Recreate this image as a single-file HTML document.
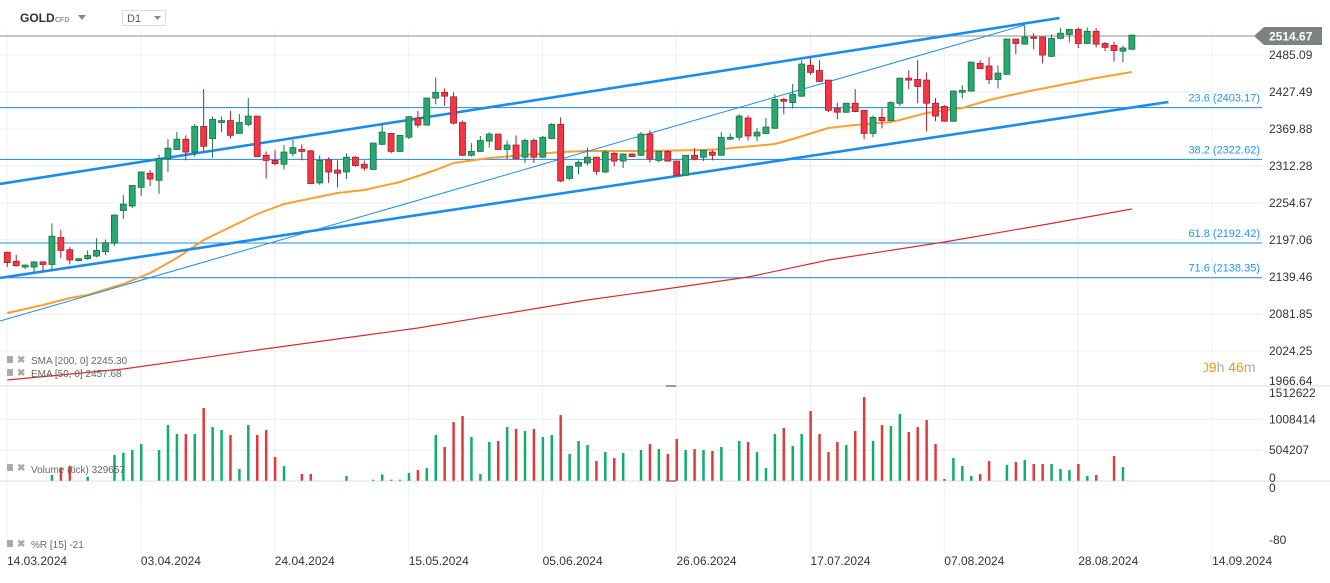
<!DOCTYPE html>
<html><head><meta charset="utf-8"><style>
html,body{margin:0;padding:0;background:#fff;}
body{width:1330px;height:578px;overflow:hidden;font-family:"Liberation Sans",sans-serif;}
svg text{font-family:"Liberation Sans",sans-serif;}
</style></head><body>
<svg id="chart" width="1330" height="578" viewBox="0 0 1330 578" xmlns="http://www.w3.org/2000/svg">
<g id="grid"></g>
<g id="volume"></g>
<g id="fib"></g>
<g id="ind"></g>
<g id="candles"></g>
<g id="axes"></g>
<g>
  <text x="20" y="22" font-size="12" font-weight="bold" fill="#333">GOLD</text>
  <text x="55" y="22" font-size="7" fill="#666">CFD</text>
  <path d="M78,15 L86,15 L82,20 Z" fill="#888"/>
  <rect x="122.5" y="10.5" width="43" height="15" fill="#fff" stroke="#ddd"/>
  <text x="127" y="22" font-size="11" fill="#555">D1</text>
  <path d="M154,16 L161,16 L157.5,20 Z" fill="#888"/>
</g>
<g font-size="10" fill="#666">
  <rect x="7" y="356" width="6" height="7" fill="#aaa"/>
  <text x="17" y="363" fill="#aaa" font-weight="bold">✖</text>
  <text x="31" y="364">SMA [200,  0] 2245.30</text>
  <rect x="7" y="369" width="6" height="7" fill="#aaa"/>
  <text x="17" y="376" fill="#aaa" font-weight="bold">✖</text>
  <text x="31" y="377">EMA [50,  0] 2457.68</text>
  <rect x="7" y="464" width="6" height="7" fill="#aaa"/>
  <text x="17" y="471" fill="#aaa" font-weight="bold">✖</text>
  <text x="31" y="473">Volume (tick)  329657</text>
  <rect x="7" y="540" width="6" height="7" fill="#aaa"/>
  <text x="17" y="547" fill="#aaa" font-weight="bold">✖</text>
  <text x="31" y="548">%R [15]  -21</text>
</g>
<g font-size="14">
  <text x="1201" y="372" fill="#f7931a">09<tspan fill="#aaa">h</tspan> 46<tspan fill="#aaa">m</tspan></text>
  <rect x="1195" y="358" width="9" height="18" fill="#fff"/>
</g>
</svg>
<script>
const opens=[2178,2164,2155,2155,2163,2159,2201,2182,2165,2168,2172,2179,2192,2243,2250,2279,2301,2290,2324,2338,2354,2334,2374,2355,2380,2383,2363,2377,2390,2329,2321,2315,2332,2338,2336,2286,2322,2306,2303,2326,2315,2307,2346,2363,2335,2357,2387,2376,2418,2427,2420,2380,2329,2335,2351,2362,2338,2345,2326,2352,2326,2355,2377,2293,2312,2317,2326,2303,2332,2320,2331,2329,2362,2321,2335,2320,2298,2329,2326,2334,2329,2354,2357,2387,2359,2363,2371,2416,2411,2421,2469,2461,2446,2402,2396,2410,2399,2363,2388,2383,2410,2449,2447,2446,2410,2405,2382,2427,2429,2472,2468,2447,2455,2510,2502,2513,2513,2483,2511,2517,2525,2503,2522,2503,2500,2491,2494];
const highs=[2179,2174,2159,2164,2164,2223,2213,2186,2169,2181,2200,2198,2237,2267,2282,2303,2306,2330,2354,2365,2360,2378,2432,2389,2389,2398,2393,2418,2390,2335,2337,2345,2353,2346,2337,2329,2326,2321,2332,2328,2321,2348,2379,2364,2361,2390,2398,2419,2450,2433,2427,2383,2348,2359,2365,2362,2352,2360,2355,2355,2359,2379,2388,2313,2321,2341,2327,2337,2334,2332,2332,2365,2368,2336,2337,2320,2329,2340,2338,2337,2365,2363,2393,2391,2371,2387,2424,2418,2440,2477,2480,2477,2446,2411,2411,2432,2399,2391,2402,2413,2450,2461,2477,2458,2418,2407,2430,2438,2475,2477,2482,2469,2510,2510,2531,2519,2513,2517,2527,2525,2528,2528,2527,2505,2506,2500,2517];
const lows=[2155,2156,2152,2148,2149,2150,2169,2159,2164,2166,2170,2174,2188,2230,2247,2266,2281,2269,2303,2337,2321,2327,2335,2325,2365,2355,2363,2374,2326,2293,2313,2307,2327,2321,2284,2283,2286,2279,2292,2311,2305,2306,2345,2332,2334,2354,2372,2375,2408,2406,2377,2328,2327,2334,2341,2337,2323,2323,2317,2317,2325,2354,2287,2290,2299,2313,2298,2301,2312,2309,2326,2328,2318,2318,2319,2297,2297,2321,2320,2321,2328,2353,2352,2352,2351,2362,2370,2393,2402,2420,2454,2443,2396,2385,2395,2396,2354,2357,2371,2382,2405,2432,2410,2366,2382,2381,2381,2418,2428,2463,2440,2433,2454,2486,2501,2494,2472,2482,2510,2505,2496,2502,2497,2491,2475,2474,2493];
const closes=[2162,2157,2158,2163,2159,2203,2181,2166,2168,2173,2181,2193,2236,2253,2282,2303,2292,2324,2340,2354,2334,2374,2343,2385,2383,2360,2380,2390,2327,2321,2316,2334,2341,2335,2285,2321,2303,2301,2326,2313,2309,2348,2365,2335,2360,2389,2376,2418,2427,2421,2379,2329,2335,2352,2362,2338,2345,2324,2352,2326,2357,2377,2289,2312,2318,2326,2304,2334,2320,2331,2327,2362,2323,2335,2320,2298,2329,2323,2337,2329,2357,2357,2390,2359,2365,2373,2416,2413,2424,2471,2458,2444,2399,2396,2410,2397,2363,2388,2383,2411,2449,2446,2436,2410,2390,2382,2429,2430,2474,2464,2447,2457,2510,2503,2513,2511,2485,2511,2519,2525,2503,2522,2502,2497,2492,2496,2516];
const volumes=[0,0,0,0,0,93160,219200,241120,0,65760,0,0,421960,460320,504160,602800,0,504160,915160,767200,767200,767200,1194640,882280,832960,750760,191800,915160,750760,832960,389080,241120,0,109600,109600,0,0,0,76720,0,0,16440,104120,16440,16440,126040,175360,208240,750760,553480,964480,1063120,717880,109600,635680,652120,882280,849400,816520,849400,717880,750760,1079560,438400,652120,586360,323320,471280,372640,454840,0,504160,602800,520600,438400,685000,504160,520600,504160,487720,553480,0,652120,635680,471280,208240,767200,865840,569920,767200,1145320,767200,471280,635680,586360,816520,1375480,652120,915160,898720,1096000,800080,882280,997360,602800,27400,372640,241120,76720,109600,323320,0,257560,306880,339760,274000,274000,274000,191800,175360,274000,76720,93160,0,405520,224680,0];
const emaIdx=[0,4,7,9,13,16,19,22,25,28,31,37,40,44,48,50,54,58,62,65,71,78,80,86,88,92,95,99,100,103,107,110,114,118,122,126];
const emaVals=[2083.4,2095.9,2106.8,2111.5,2128.6,2145.7,2169.1,2197.1,2217.3,2237.6,2253.1,2270.3,2274.9,2287.4,2306.1,2317,2324.7,2329.4,2334.1,2335.6,2335.6,2337.2,2338.8,2346.5,2354.3,2371.4,2376.1,2380.8,2383.9,2394.8,2402.6,2415,2427.5,2438.4,2449.3,2458.6];
const smaIdx=[0,13,28,46,65,73,83,92,105,116,126];
const smaVals=[1979.2,1996.3,2025.9,2060.1,2103.7,2119.3,2139.5,2166,2194,2220.4,2245.3];
const priceTicks=[2485.09,2427.49,2369.88,2312.28,2254.67,2197.06,2139.46,2081.85,2024.25,1966.64];
const fibLevels=[23.6,38.2,61.8,71.6];
const fibPrices=[2403.17,2322.62,2192.42,2138.35];
const volTicks=[1512622,1008414,504207];
const dateLabels=["14.03.2024","03.04.2024","24.04.2024","15.05.2024","05.06.2024","26.06.2024","17.07.2024","07.08.2024","28.08.2024","14.09.2024"];
const lastPrice=2514.67;

const NS="http://www.w3.org/2000/svg";
function X(i){return 7.3+8.925*i;}
function Y(p){return 55+(2485.09-p)*0.6424;}
function VY(v){return 480.7-v*30.67/504207;}
function mk(tag,attrs,parent){const e=document.createElementNS(NS,tag);for(const k in attrs)e.setAttribute(k,attrs[k]);parent.appendChild(e);return e;}
const G=id=>document.getElementById(id);

const grid=G('grid');
for(let k=0;k<10;k++){const gx=7+133.9*k;const l=mk('line',{x1:gx,x2:gx,y1:30,y2:553,stroke:'#f0f0f0'},grid);

}
priceTicks.forEach(p=>{if(Y(p)>384)return;const l=mk('line',{x1:0,x2:1262,y1:Y(p),y2:Y(p),stroke:'#eeeeee'},grid);

});
volTicks.slice(1).forEach(v=>{const l=mk('line',{x1:0,x2:1262,y1:VY(v),y2:VY(v),stroke:'#eeeeee'},grid);

});
mk('line',{x1:0,x2:1330,y1:386,y2:386,stroke:'#ddd'},grid);
mk('line',{x1:0,x2:1330,y1:481,y2:481,stroke:'#ddd'},grid);
mk('rect',{x:666,y:385,width:10,height:2,fill:'#999'},grid);
mk('rect',{x:666,y:480,width:10,height:2,fill:'#999'},grid);

const vg=G('volume');
volumes.forEach((v,i)=>{if(v<=0)return;const up=closes[i]>=opens[i];
const r=mk('rect',{x:X(i)-1.2,y:VY(v),width:2.5,height:480.7-VY(v),fill:up?'#0fae6a':'#e03a3a'},vg);

});

const fg=G('fib');
fibPrices.forEach((p,k)=>{const l=mk('line',{x1:0,x2:1262,y1:Y(p),y2:Y(p),stroke:'#1e88e5','stroke-width':1},fg);


const t=mk('text',{x:1260,y:Y(p)-6,'font-size':11,fill:'#2196f3','text-anchor':'end'},fg);t.textContent=fibLevels[k].toFixed(1)+' ('+p.toFixed(2)+')';

});
const pl=mk('line',{x1:0,x2:1262,y1:Y(lastPrice),y2:Y(lastPrice),stroke:'#8a9090','stroke-width':1},fg);



const ig=G('ind');
function poly(idx,vals,color,w,name){const pts=idx.map((i,k)=>X(i).toFixed(1)+','+Y(vals[k]).toFixed(1)).join(' ');
const p=mk('polyline',{points:pts,fill:'none',stroke:color,'stroke-width':w,'stroke-linejoin':'round'},ig);

}
poly(smaIdx,smaVals,'#d32f2f',1.2,'sma-200-line');
poly(emaIdx,emaVals,'#f9a030',2,'ema-50-line');
function tl(i1,p1,i2,p2,w,name){const l=mk('line',{x1:X(i1),y1:Y(p1),x2:X(i2),y2:Y(p2),stroke:'#1a8cf0','stroke-width':w},ig);

}
tl(-0.82,2284.3,117.9,2542.7,2.6,'channel-upper-line');
tl(-0.82,2138,130.1,2411.9,2.6,'channel-lower-line');
tl(-0.82,2071,114,2531.8,1,'trend-thin-line');

const cg=G('candles');
opens.forEach((o,i)=>{const c=closes[i],up=c>=o;const x=X(i);
const stroke=up?'#1d7048':'#a81e2c',fill=up?'#26a870':'#f23645';
const g=mk('g',{},cg);


mk('line',{x1:x,x2:x,y1:Y(highs[i]),y2:Y(lows[i]),stroke:stroke,'stroke-width':1},g);
const top=Y(Math.max(o,c)),bot=Y(Math.min(o,c));
mk('rect',{x:x-3,y:top,width:6,height:Math.max(bot-top,1),fill:fill,stroke:stroke,'stroke-width':0.8},g);});

const ag=G('axes');
priceTicks.forEach(p=>{const yy=Math.min(Y(p),381);const t=mk('text',{x:1269,y:yy+4,'font-size':12,fill:'#333'},ag);t.textContent=p.toFixed(2);

});
const tagY=Y(lastPrice);
const tag=mk('path',{d:`M1254,${tagY} L1264,${tagY-9} L1322,${tagY-9} L1322,${tagY+9} L1264,${tagY+9} Z`,fill:'#7c8282'},ag);


const tt=mk('text',{x:1269,y:tagY+4.5,'font-size':12,'font-weight':'bold',fill:'#fff'},ag);tt.textContent=lastPrice.toFixed(2);


volTicks.forEach(v=>{const yy=Math.max(VY(v),393);const t=mk('text',{x:1269,y:yy+4,'font-size':12,fill:'#333'},ag);t.textContent=String(v);

});
[['0',482],['0',492],['-80',544]].forEach(a=>{const t=mk('text',{x:1269,y:a[1],'font-size':12,fill:'#333'},ag);t.textContent=a[0];

});
dateLabels.forEach((d,k)=>{const t=mk('text',{x:7+133.9*k,y:565,'font-size':12,fill:'#333'},ag);t.textContent=d;

});
</script>
</body></html>
